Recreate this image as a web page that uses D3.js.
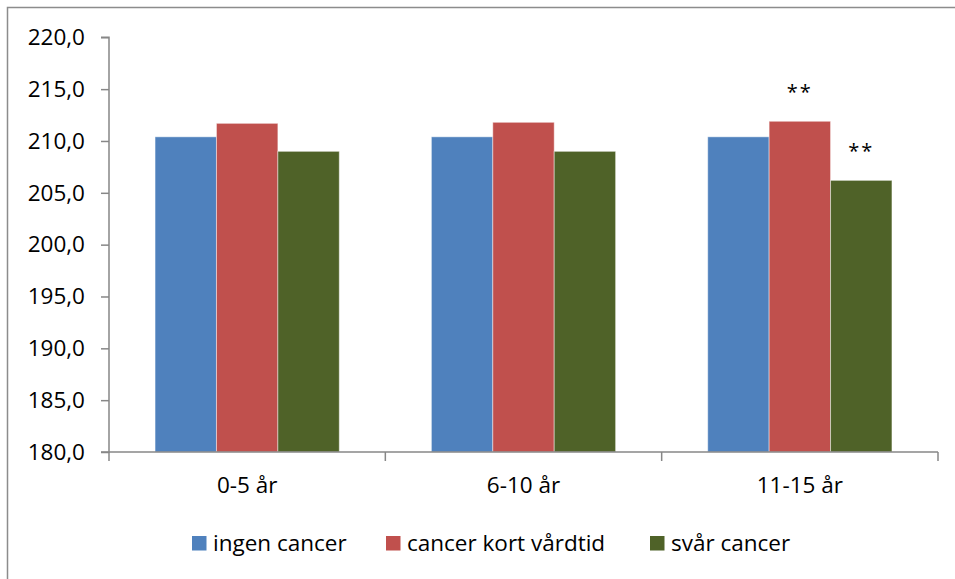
<!DOCTYPE html>
<html><head><meta charset="utf-8">
<script src="https://cdn.jsdelivr.net/npm/d3@7"></script>
<style>body{margin:0;background:#fff}svg{display:block}text{font-family:"Open Sans",sans-serif;fill:#000}</style>
</head><body><svg id="c" width="955" height="579"></svg>
<script>
const categories = ["0-5 år", "6-10 år", "11-15 år"];
const seriesNames = ["ingen cancer", "cancer kort vårdtid", "svår cancer"];
const ingenCancer = [210.4, 210.4, 210.4];
const kortVardtid = [211.7, 211.8, 211.9];
const svarCancer = [209.0, 209.0, 206.2];
const yTicks = [180, 185, 190, 195, 200, 205, 210, 215, 220];
const significance = [["", "", ""], ["", "", "**"], ["", "", "**"]];
const colors = ["#4F81BD", "#C0504D", "#4F6228"];
const seriesValues = [ingenCancer, kortVardtid, svarCancer];

(function () {
const svg = d3.select("#c");
const fs = 22.5;
svg.append("rect").attr("x", 7.5).attr("y", 7.5).attr("width", 1000).attr("height", 1000)
  .attr("fill", "none").attr("stroke", "#8c8c8c").attr("stroke-width", 1.5);

const pl = 109, pr = 938, pt = 37.3, pb = 452;
const x0 = d3.scaleBand().domain(categories).range([pl, pr]).paddingInner(0).paddingOuter(0);
const x1 = d3.scaleBand().domain(d3.range(3)).range([0, x0.bandwidth()]).paddingInner(0).paddingOuter(0.75);
const y = d3.scaleLinear().domain([180, 220]).range([pb, pt]);

const g = svg.append("g");
categories.forEach((c, ci) => {
  seriesValues.forEach((vals, si) => {
    const bx = x0(c) + x1(si);
    g.append("rect").attr("x", bx).attr("y", y(vals[ci])).attr("width", x1.bandwidth())
      .attr("height", y(180) - y(vals[ci])).attr("fill", colors[si])
      .attr("stroke", "rgba(255,255,255,0.45)").attr("stroke-width", 1);
    const s = significance[si][ci];
    if (s) g.append("text").attr("x", bx + x1.bandwidth() / 2).attr("y", y(vals[ci]) - 22)
      .attr("text-anchor", "middle").attr("font-size", 20).attr("letter-spacing", 2).text(s);
  });
});

const ya = svg.append("g").attr("transform", `translate(${pl},0)`)
  .call(d3.axisLeft(y).tickValues(yTicks).tickSize(8).tickPadding(16)
    .tickFormat(d => d3.format(".1f")(d).replace(".", ",")));
ya.selectAll("text").attr("font-size", fs).attr("font-family", '"Open Sans",sans-serif').attr("fill", "#000");
ya.selectAll("line,path").attr("stroke", "#878787").attr("stroke-width", 1.5);
ya.select("path").attr("d", `M-8,${pt}H0V${pb}H-8`);

const xa = svg.append("g").attr("transform", `translate(0,${pb})`)
  .call(d3.axisBottom(x0).tickSize(0).tickPadding(25));
xa.selectAll("text").attr("font-size", fs).attr("font-family", '"Open Sans",sans-serif').attr("fill", "#000");
xa.select("path").attr("d", `M${pl},0H${pr}`).attr("stroke", "#878787").attr("stroke-width", 1.5);
const bounds = [pl, ...categories.map(c => x0(c) + x0.bandwidth())];
xa.selectAll(".bt").data(bounds).enter().append("line").attr("x1", d => d).attr("x2", d => d)
  .attr("y1", 0).attr("y2", 9).attr("stroke", "#878787").attr("stroke-width", 1.5);

const legX = [192, 386, 650];
const lg = svg.append("g");
seriesNames.forEach((n, i) => {
  lg.append("rect").attr("x", legX[i]).attr("y", 536).attr("width", 14.5).attr("height", 14.5).attr("fill", colors[i]);
  lg.append("text").attr("x", legX[i] + 21).attr("y", 551).attr("font-size", fs).text(n);
});
})();
</script></body></html>
